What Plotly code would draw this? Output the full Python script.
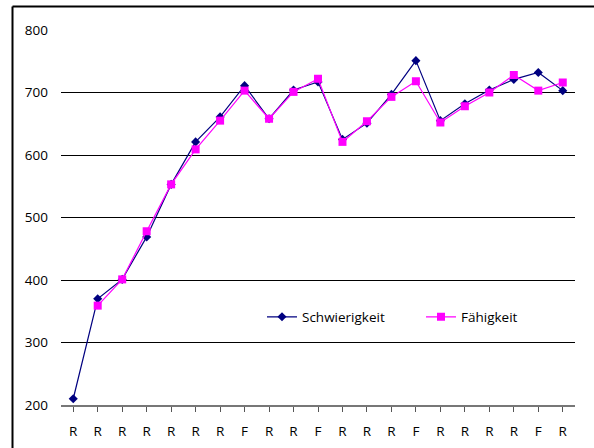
import plotly.graph_objects as go

# Category labels along the x axis (R / F per item)
labels = ["R", "R", "R", "R", "R", "R", "R", "F", "R", "R", "F",
          "R", "R", "R", "F", "R", "R", "R", "R", "F", "R"]
positions = list(range(len(labels)))

schwierigkeit = [210, 370, 401, 469, 553, 621, 661, 711, 658, 704, 717,
                 625, 651, 697, 751, 655, 682, 704, 721, 732, 703]
faehigkeit = [None, 359, 401, 478, 553, 609, 655, 703, 658, 701, 722,
              621, 654, 693, 718, 652, 678, 700, 728, 703, 716]

FONT = "Open Sans"
FSIZE = 13.5

fig = go.Figure()
fig.add_trace(go.Scatter(
    x=positions, y=schwierigkeit, name="Schwierigkeit", mode="lines+markers",
    line=dict(color="#000080", width=1.2),
    marker=dict(symbol="diamond", size=7, color="#000080"),
))
fig.add_trace(go.Scatter(
    x=positions, y=faehigkeit, name="Fähigkeit", mode="lines+markers",
    line=dict(color="#FF00FF", width=1.2),
    marker=dict(symbol="square", size=8, color="#FF00FF"),
))

L, R, T, B = 61, 19, 30, 43
W, H = 594, 448
pw, ph = W - L - R, H - T - B

def px_x(v):
    return (v - L) / pw

def px_y(v):
    return (H - B - v) / ph

# Chart frame: only the left and top edges fall inside the page
frame = dict(color="black", width=2)

fig.update_layout(
    width=W, height=H,
    margin=dict(l=L, r=R, t=T, b=B, autoexpand=False),
    paper_bgcolor="white", plot_bgcolor="white",
    font=dict(family=FONT, size=FSIZE, color="black"),
    showlegend=True,
    legend=dict(
        orientation="h", x=px_x(262), y=px_y(317), xanchor="left", yanchor="middle",
        bgcolor="rgba(0,0,0,0)", font=dict(family=FONT, size=FSIZE),
        entrywidth=114, itemwidth=30,
    ),
    xaxis=dict(
        range=[-0.5, len(labels) - 0.5],
        tickmode="array", tickvals=positions, ticktext=labels,
        tickson="boundaries", ticks="outside", ticklen=5, tickcolor="#555555",
        showline=True, linecolor="#777777", linewidth=1.5,
        showgrid=False, zeroline=False, ticklabelstandoff=8,
        tickfont=dict(family=FONT, size=FSIZE),
    ),
    yaxis=dict(
        range=[200, 800], tickmode="array", tickvals=[200, 300, 400, 500, 600, 700, 800],
        showgrid=True, gridcolor="black", gridwidth=1,
        zeroline=False, showline=False, ticks="",
        ticklabelstandoff=12, tickfont=dict(family=FONT, size=FSIZE),
    ),
    shapes=[
        dict(type="line", xref="paper", yref="paper",
             x0=px_x(12.5), x1=px_x(12.5), y0=px_y(460), y1=px_y(6.5), line=frame),
        dict(type="line", xref="paper", yref="paper",
             x0=px_x(12.5), x1=px_x(600), y0=px_y(6.5), y1=px_y(6.5), line=frame),
    ],
)

fig.write_html("out.html")
